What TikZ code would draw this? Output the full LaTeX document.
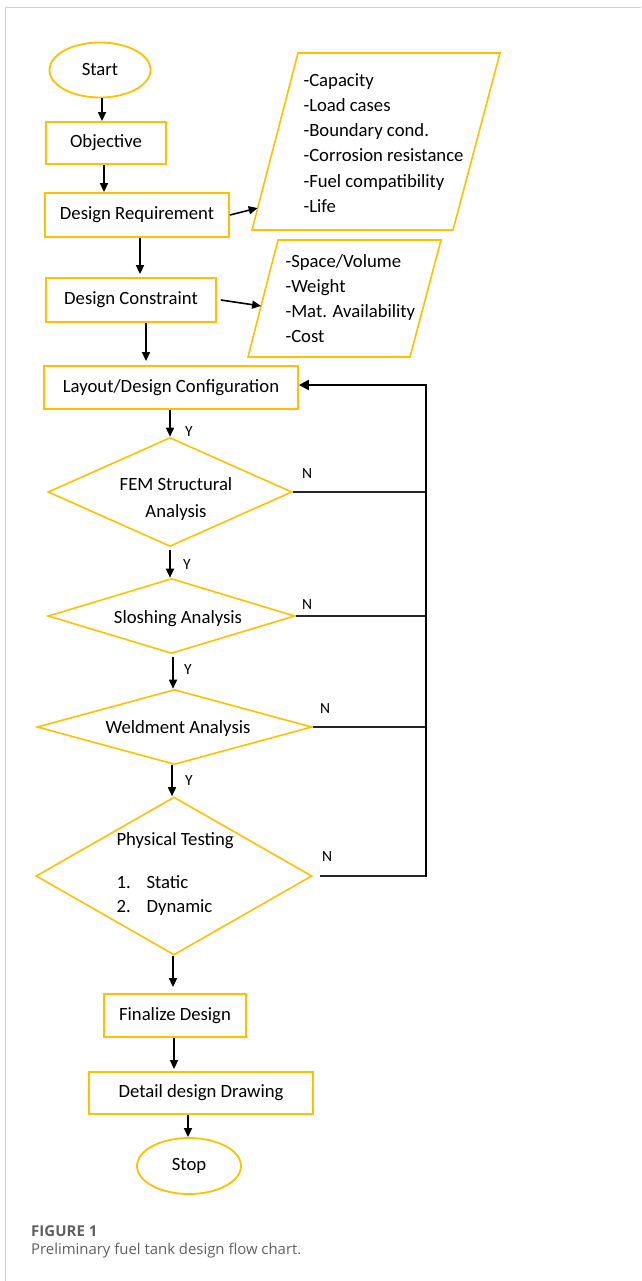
\documentclass[tikz,border=0pt]{standalone}
\usepackage{fontspec}
\setmainfont{Carlito}
\newfontfamily\capfont{Open Sans}
\usetikzlibrary{shapes.geometric,arrows.meta,calc}
\definecolor{gold}{HTML}{FFC000}
\definecolor{framegray}{HTML}{D2D2D2}
\definecolor{capgray}{HTML}{606060}
\begin{document}
\begin{tikzpicture}[x=1pt,y=-1pt,
  every node/.style={font=\fontsize{18.7}{25.2}\selectfont, text=black},
  box/.style={draw=gold, line width=1.8pt, rectangle, inner sep=0pt},
  term/.style={draw=gold, line width=1.8pt, ellipse, inner sep=0pt},
  decide/.style={draw=gold, line width=1.6pt, diamond, inner sep=0pt},
  datain/.style={draw=gold, line width=1.6pt, line join=miter},
  arr/.style={line width=1.6pt, -{Triangle[length=9pt,width=8pt]}},
  nline/.style={line width=1.4pt, draw=black!85},
  busline/.style={line width=2.2pt},
  busarr/.style={line width=2.2pt, -{Triangle[length=10pt,width=10pt]}},
  yn/.style={font=\fontsize{15.5}{18}\selectfont},
  listtxt/.style={align=left, anchor=west},
]
\useasboundingbox (0,0) rectangle (641,1281);
% page frame
\draw[framegray, line width=1pt] (5.5,1281) -- (5.5,7.5) -- (641,7.5);

% main column
\node[term, minimum width=101pt, minimum height=55pt] (start) at (100,70) {Start};
\node[box, minimum width=120pt, minimum height=42pt] (obj) at (106,143) {Objective};
\node[box, minimum width=184pt, minimum height=44pt] (req) at (137,215) {Design Requirement};
\node[box, minimum width=170pt, minimum height=44pt] (con) at (131,300) {Design Constraint};
\node[box, minimum width=254pt, minimum height=43pt] (layout) at (171,387.5) {Layout/Design Configuration};

\node[decide, minimum width=244pt, minimum height=109pt] (fem) at (170,492) {};
\node[align=center] (femtxt) at (176,499) {FEM Structural\\[1.5pt]Analysis};
\node[decide, minimum width=247pt, minimum height=75pt] (slosh) at (171.5,616) {};
\node (sloshtxt) at (178,619) {Sloshing Analysis};
\node[decide, minimum width=275pt, minimum height=75pt] (weld) at (174.5,727) {};
\node (weldtxt) at (178,729) {Weldment Analysis};
\node[decide, minimum width=276pt, minimum height=158pt] (pt) at (174,876) {};
\node[anchor=west] (pttxt) at (113,841) {Physical Testing};
\node[anchor=west] (ptone) at (113,882) {\makebox[30pt][l]{1.}Static};
\node[anchor=west] (pttwo) at (113,908) {\makebox[30pt][l]{2.}Dynamic};

\node[box, minimum width=142pt, minimum height=43pt] (fin) at (175,1015.5) {Finalize Design};
\node[box, minimum width=224pt, minimum height=42pt] (det) at (201,1093) {Detail design Drawing};
\node[term, minimum width=104pt, minimum height=56pt] (stop) at (189,1166) {Stop};

% input parallelograms
\draw[datain] (298,53) coordinate (rq tl) -- (500,53) -- (453,230) -- (252,230) coordinate (rq bl) -- cycle;
\coordinate (rq in) at ($(rq bl)!0.124!(rq tl)$);
\node[listtxt] (reqtxt) at (300,143) {-Capacity\\-Load cases\\-Boundary cond.\\-Corrosion resistance\\-Fuel compatibility\\-Life};
\draw[datain] (278,240) coordinate (cn tl) -- (441,240) -- (410,357) -- (248,357) coordinate (cn bl) -- cycle;
\coordinate (cn in) at ($(cn bl)!0.436!(cn tl)$);
\node[listtxt] (context) at (282,298.5) {-Space/Volume\\-Weight\\-Mat. Availability\\-Cost};

% main flow arrows
\draw[arr] ([xshift=2pt]start.south) -- ([xshift=2pt]start.south |- obj.north);
\draw[arr] ([xshift=-2pt]obj.south) -- ([xshift=-2pt]obj.south |- req.north);
\draw[arr] ([xshift=3pt]req.south) -- ([xshift=3pt,yshift=3pt]req.south |- con.north);
\draw[arr] ([xshift=15pt]con.south) -- ([xshift=15pt,yshift=4pt]con.south |- layout.north);
\draw[arr] ([xshift=-1pt]layout.south) -- ([xshift=-1pt]layout.south |- fem.north);
\draw[arr] ([yshift=-3pt]fem.south) -- (fem.south |- slosh.north);
\draw[arr] ([xshift=1.5pt,yshift=-3pt]slosh.south) -- ([xshift=1.5pt]slosh.south |- weld.north);
\draw[arr] ([xshift=-2.5pt]weld.south) -- ([xshift=-2.5pt]weld.south |- pt.north);
\draw[arr] ([xshift=-1pt]pt.south) -- ([xshift=-1pt,yshift=6pt]pt.south |- fin.north);
\draw[arr] ([xshift=-1pt]fin.south) -- ([xshift=-1pt,yshift=2pt]fin.south |- det.north);
\draw[arr] ([xshift=-13pt]det.south) -- ([xshift=-13pt]det.south |- stop.north);

% links to the input lists
\draw[arr] (req.east) -- (rq in);
\draw[arr] ([xshift=4pt]con.east) -- (cn in);

% Y labels
\node[yn] (y1) at (189,432) {Y};
\node[yn] (y2) at (187,565) {Y};
\node[yn] (y3) at (188,670) {Y};
\node[yn] (y4) at (189,781) {Y};

% N branches back to the layout step
\coordinate (bus) at (426,385);
\draw[nline] (fem.east) -- (fem.east -| bus);
\draw[nline] (slosh.east) -- (slosh.east -| bus);
\draw[nline] (weld.east) -- (weld.east -| bus);
\draw[nline] ([xshift=7pt]pt.east) -- (pt.east -| bus);
\draw[busline] ([yshift=-1pt]pt.east -| bus) -- (bus);
\draw[busarr] ([xshift=1pt]bus) -- (layout.east |- bus);
\node[yn] (n1) at (307,474) {N};
\node[yn] (n2) at (307,605) {N};
\node[yn] (n3) at (325,709) {N};
\node[yn] (n4) at (327,857) {N};

% caption
\node[anchor=west, inner sep=0pt, text=capgray, font=\capfont\bfseries\fontsize{15}{18}\selectfont] (figlab) at (31,1231) {FIGURE 1};
\node[anchor=west, inner sep=0pt, text=capgray, font=\capfont\fontsize{14.9}{18}\selectfont] (figcap) at (31,1251) {Preliminary fuel tank design flow chart.};
\end{tikzpicture}
\end{document}
